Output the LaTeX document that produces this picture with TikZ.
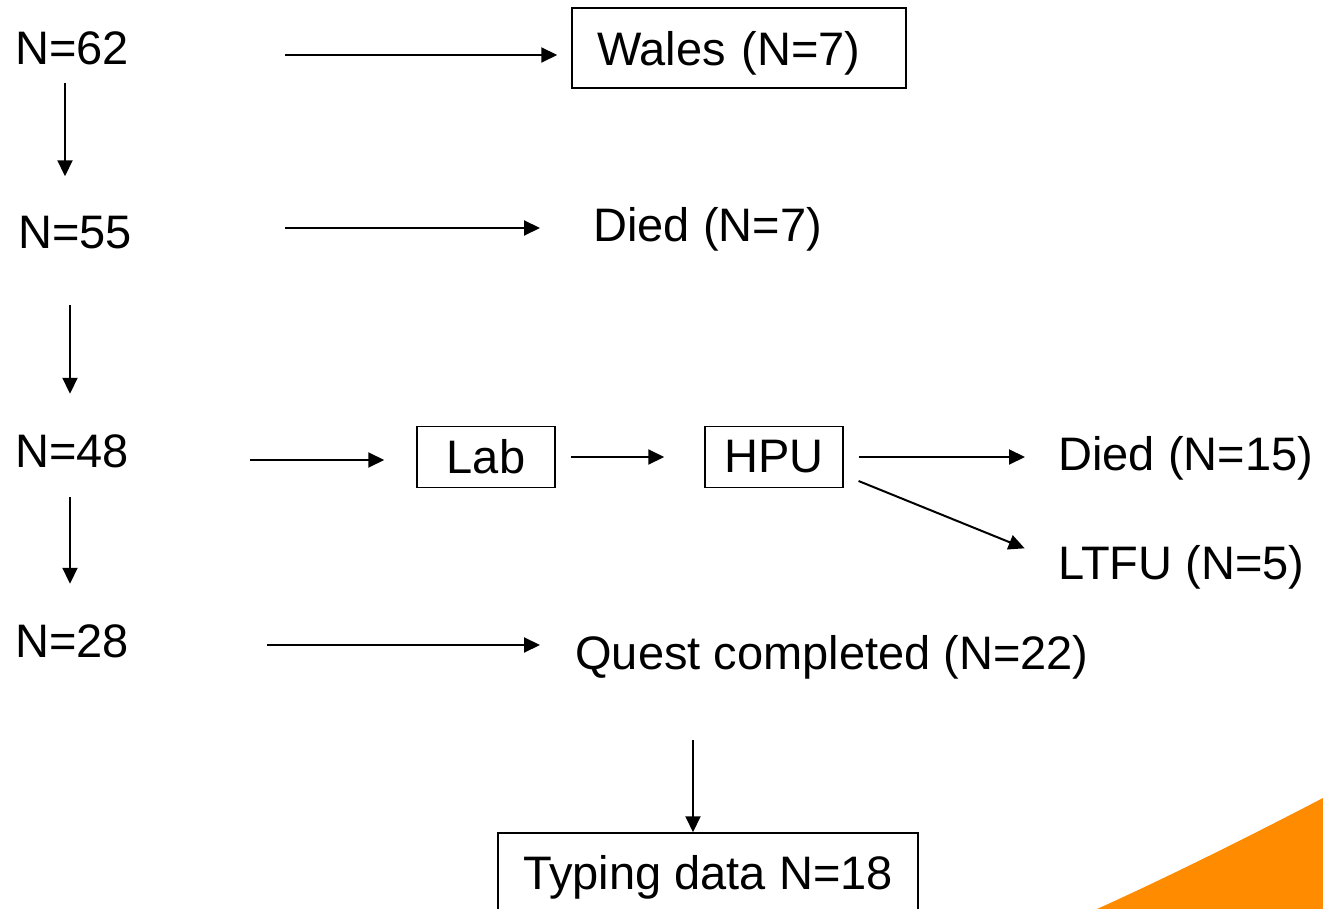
\documentclass[tikz,border=0pt]{standalone}
\usepackage{fontspec}
\setmainfont{Liberation Sans}
\usepackage{xcolor}
\usetikzlibrary{arrows.meta,positioning,calc}
\definecolor{flowor}{RGB}{255,140,0}

\begin{document}
\begin{tikzpicture}[
x=0.5pt, y=-0.5pt,
font=\fontsize{23.5}{28}\selectfont,
lbl/.style={anchor=base west, inner sep=0pt},
ent/.style={draw, line width=0.75pt, inner sep=0pt, align=center},
arr/.style={-{Triangle[length=8pt,width=7.5pt]}, line width=1pt},
down/.style={arr, shorten >=20pt}
]
\useasboundingbox (0,0) rectangle (1323,909);
\clip (0,0) rectangle (1323,909);

% corner swoosh
\fill[flowor] (1097,909) .. controls (1170,876) and (1250,836) .. (1323,798) -- (1323,909) -- cycle;

% counts on the left
\node[lbl] (n62) at (15,65) {N=62};
\node[lbl] (n55) at (18,249) {N=55};
\node[lbl] (n48) at (15,467) {N=48};
\node[lbl] (n28) at (15,657) {N=28};

% outcomes
\node[ent, text width=142pt, align=left, inner xsep=12.5pt, text height=20pt, text depth=2pt,
  minimum height=40pt] (wales) at (739,48) {Wales (N=7)};
\node[lbl] (died1) at (593,242) {Died (N=7)};
\node[ent, minimum width=69pt, minimum height=30.5pt] (lab) at (486,457) {Lab};
\node[ent, minimum width=69pt, minimum height=30.5pt] (hpu) at (774,457) {HPU};
\node[lbl] (died2) at (1058,470) {Died (N=15)};
\node[lbl] (ltfu) at (1058,579) {LTFU (N=5)};
\node[lbl] (quest) at (575,669) {Quest completed (N=22)};
\node[ent, minimum width=210pt, minimum height=50pt, text height=12pt, text depth=6pt] (typing) at (708,883) {Typing data N=18};

% arrow tails
\coordinate (v1) at (65,83);
\coordinate (v2) at (70,305);
\coordinate (v3) at (70,497);
\coordinate (v4) at (693,740);
\coordinate (h1) at (285,55);
\coordinate (h2) at (285,228);
\coordinate (h3) at (250,460);
\coordinate (h4) at (267,645);

\draw[down] (v1) -- (v1 |- n55.north);
\draw[down] (v2) -- (v2 |- n48.north);
\draw[down] (v3) -- (v3 |- n28.north);

\draw[arr, shorten >=7pt] (h1) -- (h1 -| wales.west);
\draw[arr, shorten >=26.5pt] (h2) -- (h2 -| died1.west);
\draw[arr, shorten >=16pt] (h3) -- (h3 -| lab.west);
\draw[arr, shorten >=17.5pt] (h4) -- (h4 -| quest.west);

\draw[arr, shorten <=7.5pt, shorten >=20pt] (lab.east) -- (hpu.west);
\draw[arr, shorten <=7.5pt, shorten >=16.5pt] (hpu.east) -- (hpu.east -| died2.west);
\draw[arr, shorten <=8pt, shorten >=18pt] ([yshift=-9pt]hpu.east) -- ([yshift=2.5pt]ltfu.west);
\draw[arr] (v4) -- (v4 |- typing.north);
\end{tikzpicture}
\end{document}
